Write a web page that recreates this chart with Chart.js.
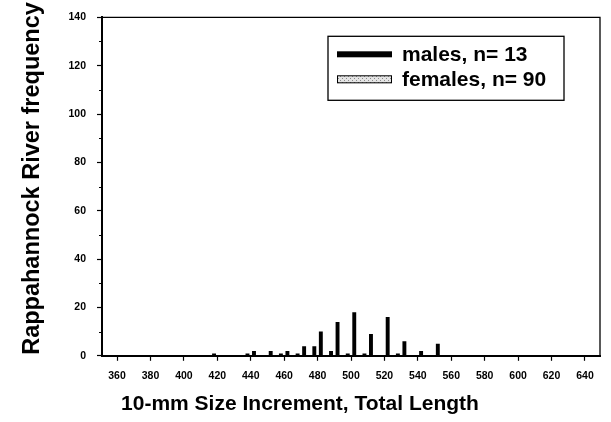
<!DOCTYPE html>
<html><head><meta charset="utf-8">
<script src="https://cdn.jsdelivr.net/npm/chart.js@4.4.0/dist/chart.umd.min.js"></script>
<style>html,body{margin:0;padding:0;background:#fff}#wrap{width:611px;height:422px}</style>
</head><body><div id="wrap"><canvas id="c" width="611" height="422"></canvas></div>
<script>
const sizeClasses = [420, 430, 440, 450, 460, 470, 480, 490, 500, 510, 520, 530, 540, 550];
const males       = [1,   0,   1,   0,   1,   1,   4,   2,   1,   1,   0,   1,   0,   0];
const females     = [0,   0,   2,   2,   2,   4,   10,  14,  18,  9,   16,  6,   2,   5];
const xTickValues = [360, 380, 400, 420, 440, 460, 480, 500, 520, 540, 560, 580, 600, 620, 640];
const yTickValues = [0, 20, 40, 60, 80, 100, 120, 140];
const yMinorTicks = [10, 30, 50, 70, 90, 110, 130];
const seriesNames = ['males, n= 13', 'females, n= 90'];
const xTitle = '10-mm Size Increment, Total Length';
const yTitle = 'Rappahannock River frequency';

const FAM = '"Liberation Sans", Arial, Helvetica, sans-serif';

function dotPattern(ctx) {
  const c = document.createElement('canvas');
  c.width = 4; c.height = 4;
  const g = c.getContext('2d');
  g.fillStyle = '#e4e4e4'; g.fillRect(0, 0, 4, 4);
  g.fillStyle = '#8a8a8a'; g.fillRect(0, 0, 1, 1); g.fillRect(2, 2, 1, 1);
  return ctx.createPattern(c, 'repeat');
}

const framePlugin = {
  id: 'frame',
  beforeDatasetsDraw(chart) {
    const {ctx, chartArea: ca} = chart;
    ctx.save();
    ctx.strokeStyle = '#000';
    ctx.lineWidth = 1.3;
    ctx.beginPath();
    ctx.moveTo(ca.left, ca.top);
    ctx.lineTo(ca.right, ca.top);
    ctx.lineTo(ca.right, ca.bottom);
    ctx.stroke();
    const ys = chart.scales.y;
    ctx.lineWidth = 1;
    yMinorTicks.forEach(v => {
      const py = Math.round(ys.getPixelForValue(v)) + 0.5;
      ctx.beginPath();
      ctx.moveTo(ca.left - 3, py);
      ctx.lineTo(ca.left, py);
      ctx.stroke();
    });
    // y axis title, anchored near the bottom of the plot
    ctx.fillStyle = '#000';
    ctx.font = 'bold 23.5px ' + FAM;
    ctx.textBaseline = 'middle';
    ctx.textAlign = 'left';
    ctx.translate(33, ca.bottom - 1);
    ctx.rotate(-Math.PI / 2);
    ctx.fillText(yTitle, 0, 0);
    ctx.restore();
  },
  afterDraw(chart) {
    const {ctx, chartArea: ca} = chart;
    ctx.save();
    const bw = 236, bh = 64;
    const bx = ca.right - 36 - bw, by = ca.top + 19;
    ctx.fillStyle = '#fff';
    ctx.fillRect(bx, by, bw, bh);
    ctx.strokeStyle = '#000';
    ctx.lineWidth = 1.3;
    ctx.strokeRect(bx, by, bw, bh);
    const rows = [by + 18, by + 43];
    ctx.fillStyle = '#000';
    ctx.fillRect(bx + 9, rows[0] - 3, 55, 6);
    ctx.fillStyle = dotPattern(ctx);
    ctx.fillRect(bx + 9, rows[1] - 4, 55, 8);
    ctx.lineWidth = 1;
    ctx.strokeRect(bx + 9.5, rows[1] - 3.5, 54, 7);
    ctx.fillStyle = '#000';
    ctx.font = 'bold 21px ' + FAM;
    ctx.textBaseline = 'middle';
    ctx.textAlign = 'left';
    chart.data.datasets.forEach((ds, i) => {
      ctx.fillText(ds.label, bx + 74, rows[i] + 1);
    });
    ctx.restore();
  }
};

new Chart(document.getElementById('c'), {
  type: 'bar',
  data: {
    datasets: [
      { label: seriesNames[0], data: males.map((v, i) => ({x: sizeClasses[i], y: v})),
        backgroundColor: '#000', borderWidth: 0, categoryPercentage: 0.78, barPercentage: 0.6 },
      { label: seriesNames[1], data: females.map((v, i) => ({x: sizeClasses[i], y: v})),
        backgroundColor: '#000', borderWidth: 0, categoryPercentage: 0.78, barPercentage: 0.6 }
    ]
  },
  options: {
    responsive: false,
    devicePixelRatio: 1,
    animation: false,
    layout: { padding: { left: 0, right: 11, top: 15, bottom: 0 } },
    plugins: {
      legend: { display: false },
      tooltip: { enabled: false },
      title: { display: true, position: 'bottom', text: xTitle, color: '#000',
        font: { family: FAM, size: 21, weight: 'bold' }, padding: { top: 4, bottom: 5 } }
    },
    scales: {
      x: {
        type: 'linear', min: 351, max: 649, offset: false,
        afterBuildTicks: s => { s.ticks = xTickValues.map(v => ({value: v})); },
        afterFit: s => { s.height = 32; },
        grid: { drawOnChartArea: false, offset: false, tickLength: 5, tickColor: '#000', tickWidth: 1.2 },
        border: { display: true, color: '#000', width: 2 },
        ticks: { color: '#000', font: { family: FAM, size: 10.5, weight: 'bold' }, padding: 9, maxRotation: 0, autoSkip: false }
      },
      y: {
        type: 'linear', min: 0, max: 140,
        afterBuildTicks: s => { s.ticks = yTickValues.map(v => ({value: v})); },
        afterFit: s => { s.width = 102; },
        grid: { drawOnChartArea: false, tickLength: 5, tickColor: '#000', tickWidth: 1.2 },
        border: { display: true, color: '#000', width: 2 },
        ticks: { color: '#000', font: { family: FAM, size: 10.5, weight: 'bold' }, padding: 11 }
      }
    }
  },
  plugins: [framePlugin]
});
</script></body></html>
